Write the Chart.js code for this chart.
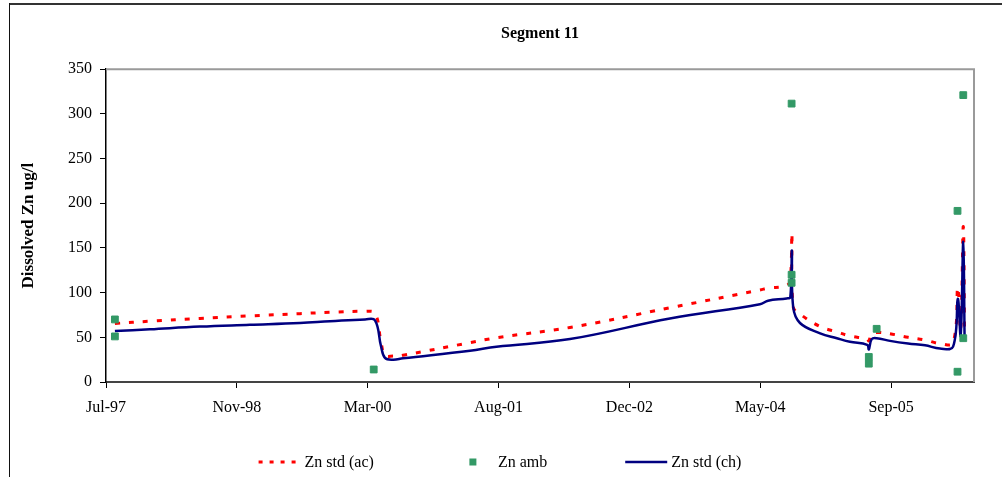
<!DOCTYPE html>
<html>
<head>
<meta charset="utf-8">
<script src="https://cdn.jsdelivr.net/npm/chart.js@4.4.0/dist/chart.umd.min.js"></script>
<style>
  html, body { margin: 0; padding: 0; background: #fff; }
  #wrap { width: 1002px; height: 477px; position: relative; }
</style>
</head>
<body>
<div id="wrap"><canvas id="c" width="1002" height="477"></canvas></div>
<script>
// ---- chart text ----
const chartTitle = 'Segment 11';
const yAxisTitle = 'Dissolved Zn ug/l';

// ---- axes ----
const xStart = '1997-07-01';
const xEnd = '2006-07-31';
const tickDates = ['1997-07-01', '1998-11-13', '2000-03-27', '2001-08-09', '2002-12-22', '2004-05-05', '2005-09-17'];
const tickLabels = ['Jul-97', 'Nov-98', 'Mar-00', 'Aug-01', 'Dec-02', 'May-04', 'Sep-05'];
const yMin = 0, yMax = 350, yStep = 50;

// ---- modelled standards (shared dates) ----
const stdDates = [
  '1997-08-04', '1997-12-16', '1998-06-25', '1999-01-02', '1999-07-12', '1999-11-04',
  '2000-03-17', '2000-04-24', '2000-05-17', '2000-06-01', '2000-07-02', '2000-08-09',
  '2001-04-22', '2001-08-01', '2002-05-09', '2003-05-26', '2004-05-04', '2004-06-04',
  '2004-08-14', '2004-08-28', '2004-09-03', '2004-09-08', '2004-10-04', '2004-12-20',
  '2005-02-22', '2005-04-13', '2005-06-18', '2005-06-24', '2005-07-05', '2005-07-24',
  '2005-09-13', '2005-11-21', '2006-01-25', '2006-03-23', '2006-05-12', '2006-05-30',
  '2006-06-10', '2006-06-20', '2006-06-25'
];
const znStdAc = [
  65.5, 68, 71, 74, 76.5, 78,
  79, 77, 45, 30, 29, 30,
  44, 49.5, 61, 83, 103, 105,
  108, 115, 166, 84, 76, 62,
  56, 51.5, 48, 46, 54, 55.5,
  54, 50, 47, 43, 44, 106,
  58, 174, 50
];
const znStdCh = [
  57, 59, 62, 64, 66, 68,
  70, 69, 40, 27, 25, 26.5,
  35, 39.5, 48, 71, 87, 91,
  93.5, 95, 147, 84, 66, 54.5,
  49, 45, 41.5, 36.5, 48, 49,
  46, 43, 41, 37.5, 39.5, 93,
  52, 157, 49
];

// ---- ambient samples ----
const ambDates = [
  '1997-08-04', '1997-08-04', '2000-04-19', '2004-09-02', '2004-09-02', '2004-09-02',
  '2005-06-24', '2005-06-24', '2005-07-24', '2006-05-29', '2006-05-29', '2006-06-20', '2006-06-20'
];
const znAmb = [70, 51, 14, 311.5, 120, 111, 28, 20.5, 59.5, 191.5, 11.5, 321, 49];

// ---- helpers ----
const dayNum = s => { const [y, m, d] = s.split('-').map(Number); return Date.UTC(y, m - 1, d) / 86400000; };
const pts = (dates, vals) => dates.map((d, i) => ({ x: dayNum(d), y: vals[i] }));

const serif = 'Liberation Serif';
const RED = '#ff0000', NAVY = '#000080', GREEN = '#339966';

// frame: outer chart border plus the grey top/right edge of the plot area
const framePlugin = {
  id: 'frame',
  beforeDatasetsDraw(chart) {
    const { ctx, chartArea: a } = chart;
    ctx.save();
    ctx.strokeStyle = '#9a9a9a';
    ctx.lineWidth = 2;
    ctx.beginPath();
    ctx.moveTo(a.left, a.top);
    ctx.lineTo(a.right, a.top);
    ctx.lineTo(a.right, a.bottom);
    ctx.stroke();
    ctx.restore();
  },
  afterDraw(chart) {
    const { ctx } = chart;
    ctx.save();
    ctx.strokeStyle = '#333';
    ctx.lineWidth = 2;
    ctx.beginPath();
    ctx.moveTo(9, 4);
    ctx.lineTo(chart.width, 4);
    ctx.stroke();
    ctx.lineWidth = 1;
    ctx.strokeStyle = '#111';
    ctx.beginPath();
    ctx.moveTo(9.5, 3);
    ctx.lineTo(9.5, chart.height);
    ctx.stroke();
    ctx.restore();
  }
};

// bottom legend in a single row with wide spacing
const rowLegendPlugin = {
  id: 'rowLegend',
  afterDraw(chart, args, opts) {
    const { ctx } = chart;
    const sample = 42, gap = 4, pad = opts.padding;
    ctx.save();
    ctx.font = `16px "${serif}"`;
    ctx.textBaseline = 'middle';
    const items = opts.order.map(i => chart.data.datasets[i]);
    const widths = items.map(ds => sample + gap + ctx.measureText(ds.label).width);
    const total = widths.reduce((s, w) => s + w, 0) + pad * (items.length - 1);
    let x = opts.centerX - total / 2;
    const y = opts.y;
    items.forEach((ds, k) => {
      ctx.save();
      if (ds.showLine === false) {
        ctx.fillStyle = ds.backgroundColor;
        ctx.fillRect(x + sample / 2 - 3.5, y - 3.5, 7, 7);
      } else {
        ctx.strokeStyle = ds.borderColor;
        ctx.lineWidth = ds.borderWidth;
        ctx.setLineDash(ds.borderDash ? [4, 7] : []);
        ctx.beginPath();
        ctx.moveTo(x, y);
        ctx.lineTo(x + sample, y);
        ctx.stroke();
      }
      ctx.restore();
      ctx.fillStyle = '#000';
      ctx.fillText(ds.label, x + sample + gap, y + 1);
      x += widths[k] + pad;
    });
    ctx.restore();
  }
};

new Chart(document.getElementById('c'), {
  type: 'scatter',
  data: {
    datasets: [
      {
        label: 'Zn std (ac)',
        data: pts(stdDates, znStdAc),
        showLine: true,
        borderColor: RED,
        backgroundColor: RED,
        borderWidth: 3,
        borderDash: [5, 9],
        tension: 0.4,
        pointRadius: 0,
        order: 2
      },
      {
        label: 'Zn amb',
        data: pts(ambDates, znAmb),
        showLine: false,
        pointStyle: 'rect',
        pointRadius: 4.8,
        borderWidth: 1,
        borderColor: GREEN,
        backgroundColor: GREEN,
        order: 0
      },
      {
        label: 'Zn std (ch)',
        data: pts(stdDates, znStdCh),
        showLine: true,
        borderColor: NAVY,
        backgroundColor: NAVY,
        borderWidth: 2.5,
        tension: 0.4,
        pointRadius: 0,
        order: 1
      }
    ]
  },
  options: {
    responsive: false,
    animation: false,
    layout: { padding: { left: 14, right: 28, top: 0, bottom: 55 } },
    plugins: {
      legend: { display: false },
      tooltip: { enabled: false },
      title: {
        display: true,
        text: chartTitle,
        fullSize: false,
        color: '#000',
        font: { family: serif, size: 16, weight: 'bold' },
        padding: { top: 24, bottom: 26 }
      },
      rowLegend: { order: [0, 1, 2], padding: 78, centerX: 500, y: 462 }
    },
    scales: {
      x: {
        type: 'linear',
        min: dayNum(xStart),
        max: dayNum(xEnd),
        afterBuildTicks: s => { s.ticks = tickDates.map(d => ({ value: dayNum(d) })); },
        afterFit: s => { s.height = 40; },
        ticks: {
          callback: (v, i) => tickLabels[i],
          autoSkip: false,
          maxRotation: 0,
          color: '#000',
          padding: 10,
          font: { family: serif, size: 16 }
        },
        grid: { drawOnChartArea: false, drawTicks: true, tickLength: 6, tickColor: '#000' },
        border: { color: '#444', width: 2 }
      },
      y: {
        min: yMin,
        max: yMax,
        afterFit: s => { s.width = 92; },
        ticks: {
          stepSize: yStep,
          color: '#000',
          padding: 8,
          font: { family: serif, size: 16 }
        },
        grid: { drawOnChartArea: false, drawTicks: true, tickLength: 6, tickColor: '#000' },
        border: { color: '#000', width: 1.5 },
        title: {
          display: true,
          text: yAxisTitle,
          color: '#000',
          font: { family: serif, size: 17, weight: 'bold' },
          padding: { top: 4, bottom: 0 }
        }
      }
    }
  },
  plugins: [framePlugin, rowLegendPlugin]
});
</script>
</body>
</html>
